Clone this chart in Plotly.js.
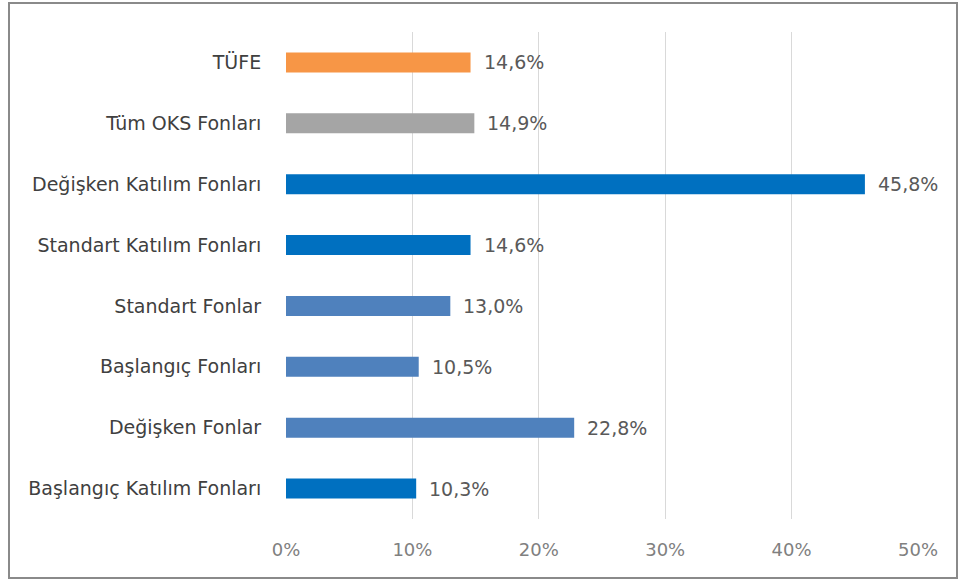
<!DOCTYPE html>
<html>
<head>
<meta charset="utf-8">
<script src="https://cdn.plot.ly/plotly-3.0.1.min.js"></script>
<style>
  html, body { margin: 0; padding: 0; background: #fff; }
  #wrap { position: relative; width: 962px; height: 580px; }
  #chart { width: 962px; height: 580px; }
  #frame { position: absolute; left: 8px; top: 2px; width: 946px; height: 573px;
           border: 2px solid #8a8a8a; pointer-events: none; }
</style>
</head>
<body>
<div id="wrap">
  <div id="chart"></div>
  <div id="frame"></div>
</div>
<script>
// Categories listed bottom to top
const categories = [
  "Başlangıç Katılım Fonları",
  "Değişken Fonlar",
  "Başlangıç Fonları",
  "Standart Fonlar",
  "Standart Katılım Fonları",
  "Değişken Katılım Fonları",
  "Tüm OKS Fonları",
  "TÜFE"
];
const values = [10.3, 22.8, 10.5, 13.0, 14.6, 45.8, 14.9, 14.6];
const barColors = ["#0070C0", "#4F81BD", "#4F81BD", "#4F81BD", "#0070C0", "#0070C0", "#A5A5A5", "#F79646"];
const tickValues = [0, 10, 20, 30, 40, 50];
const tickLabels = ["0%", "10%", "20%", "30%", "40%", "50%"];

const fontFamily = "DejaVu Sans, sans-serif";

const trace = {
  type: "bar",
  orientation: "h",
  x: values,
  y: categories,
  marker: { color: barColors },
  width: 0.33,
  hoverinfo: "none"
};

const annotations = values.map((v, i) => ({
  x: v,
  y: categories[i],
  xref: "x",
  yref: "y",
  text: v.toFixed(1).replace(".", ",") + "%",
  showarrow: false,
  xanchor: "left",
  xshift: 11,
  font: { family: fontFamily, size: 19, color: "#595959" }
}));

const layout = {
  width: 962,
  height: 580,
  margin: { l: 286, r: 44, t: 32, b: 61 },
  paper_bgcolor: "#ffffff",
  plot_bgcolor: "#ffffff",
  showlegend: false,
  xaxis: {
    range: [0, 50],
    tickvals: tickValues,
    ticktext: tickLabels,
    showgrid: true,
    gridcolor: "#d9d9d9",
    gridwidth: 1,
    zeroline: false,
    showline: false,
    ticks: "outside",
    ticklen: 14,
    tickcolor: "rgba(0,0,0,0)",
    tickfont: { family: fontFamily, size: 18, color: "#808080" },
    fixedrange: true
  },
  yaxis: {
    type: "category",
    categoryorder: "array",
    categoryarray: categories,
    showgrid: false,
    zeroline: false,
    showline: false,
    ticks: "outside",
    ticklen: 20,
    tickcolor: "rgba(0,0,0,0)",
    tickfont: { family: fontFamily, size: 19, color: "#404040" },
    fixedrange: true
  },
  annotations: annotations
};

Plotly.newPlot("chart", [trace], layout, { displayModeBar: false, staticPlot: true });
</script>
</body>
</html>
